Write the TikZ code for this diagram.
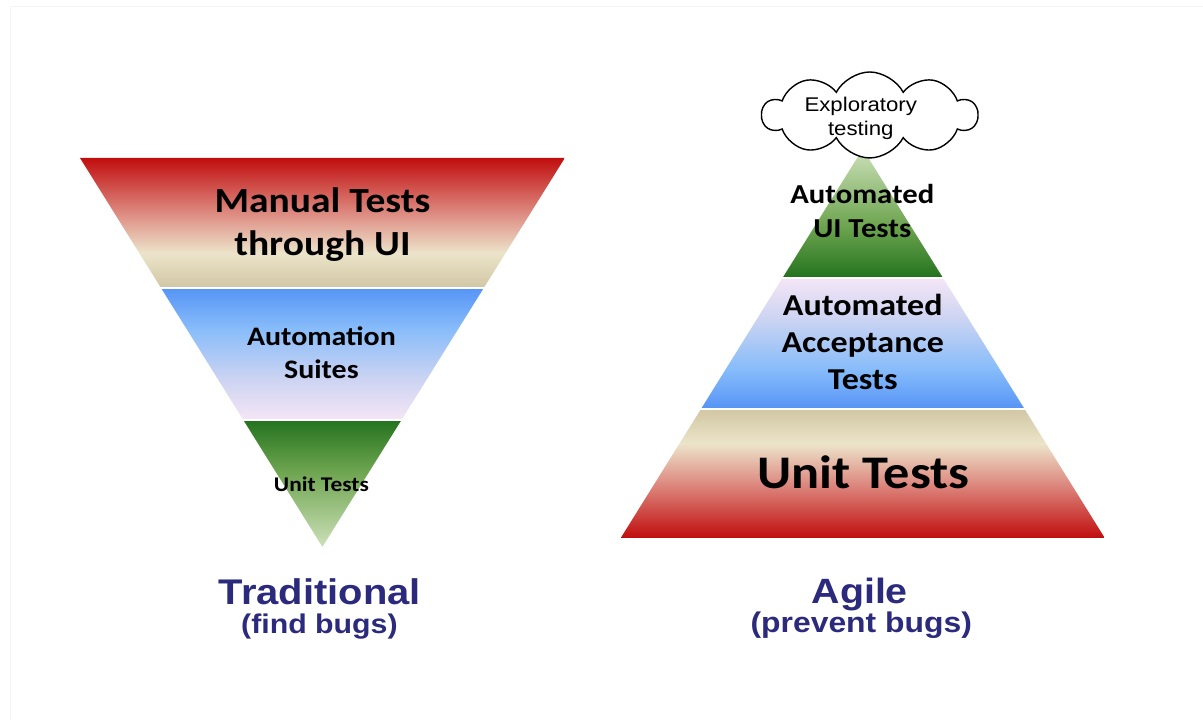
\documentclass[tikz,border=0pt]{standalone}
\usepackage{fontspec}
\setmainfont{Carlito}
\newfontfamily\arialfont{Liberation Sans}
\usetikzlibrary{positioning,shapes.symbols}

\definecolor{tierred}{RGB}{192,14,14}
\definecolor{tierpink}{RGB}{222,142,132}
\definecolor{tierbeige}{RGB}{236,228,202}
\definecolor{tiertan}{RGB}{210,200,166}
\definecolor{tierblue}{RGB}{88,150,246}
\definecolor{tiersky}{RGB}{135,188,250}
\definecolor{tiermist}{RGB}{205,212,242}
\definecolor{tierlilac}{RGB}{243,229,246}
\definecolor{tiergreen}{RGB}{38,116,32}
\definecolor{tiermoss}{RGB}{110,165,80}
\definecolor{tierpale}{RGB}{204,224,184}
\definecolor{labelnavy}{RGB}{43,42,124}

\pgfdeclareverticalshading{redtop}{100bp}{color(0bp)=(tiertan); color(25bp)=(tiertan); color(38bp)=(tierbeige); color(53bp)=(tierpink); color(75bp)=(tierred); color(100bp)=(tierred)}
\pgfdeclareverticalshading{redbottom}{100bp}{color(0bp)=(tierred); color(25bp)=(tierred); color(47bp)=(tierpink); color(62bp)=(tierbeige); color(75bp)=(tiertan); color(100bp)=(tiertan)}
\pgfdeclareverticalshading{bluetop}{100bp}{color(0bp)=(tierlilac); color(25bp)=(tierlilac); color(40bp)=(tiermist); color(60bp)=(tiersky); color(75bp)=(tierblue); color(100bp)=(tierblue)}
\pgfdeclareverticalshading{bluebottom}{100bp}{color(0bp)=(tierblue); color(25bp)=(tierblue); color(40bp)=(tiersky); color(60bp)=(tiermist); color(75bp)=(tierlilac); color(100bp)=(tierlilac)}
\pgfdeclareverticalshading{greentop}{100bp}{color(0bp)=(tierpale); color(25bp)=(tierpale); color(55bp)=(tiermoss); color(75bp)=(tiergreen); color(100bp)=(tiergreen)}
\pgfdeclareverticalshading{greenbottom}{100bp}{color(0bp)=(tiergreen); color(25bp)=(tiergreen); color(45bp)=(tiermoss); color(75bp)=(tierpale); color(100bp)=(tierpale)}

\begin{document}
\begin{tikzpicture}[x=0.02cm, y=-0.02cm,
    tier/.style n args={2}{align=center, inner sep=0pt, xscale=1.12, font=\bfseries\fontsize{#1}{#2}\selectfont},
    caption/.style={anchor=base, inner sep=0pt, xscale=1.12, text=labelnavy, font=\arialfont\bfseries\fontsize{#1}{#1}\selectfont},
    idea/.style={cloud, cloud puffs=10, cloud puff arc=125, aspect=2.5, draw, line width=0.8pt, fill=white, minimum width=4.3cm, minimum height=1.72cm}
  ]
    \fill[white] (0,0) rectangle (1203,720);
    \draw[black!4] (10,720) -- (10,6) -- (1203,6);

    \begin{scope}
      \clip (80,158) -- (565,158) -- (322.5,547) -- cycle;
      \shade[shading=redtop] (80,158) rectangle (565,286.5);
      \shade[shading=bluetop] (80,289.5) rectangle (565,418.5);
      \shade[shading=greentop] (80,421.5) rectangle (565,547);
    \end{scope}
    \node[tier={20.1}{24.5}] (manual) at (322.5,224.5) {Manual Tests\\through UI};
    \node[tier={15.2}{18.8}] (suites) at (321.5,352.5) {Automation\\Suites};
    \node[tier={11.9}{14}] (unitsmall) at (321.5,484) {Unit Tests};

    \begin{scope}
      \clip (621,538) -- (1105,538) -- (863,149) -- cycle;
      \shade[shading=greenbottom] (621,149) rectangle (1105,276.5);
      \shade[shading=bluebottom] (621,279.5) rectangle (1105,407.5);
      \shade[shading=redbottom] (621,410.5) rectangle (1105,538);
    \end{scope}
    \node[idea] (explore) at (870,115) {};
    \node[align=center, inner sep=0pt, xscale=1.12, font=\arialfont\fontsize{11.3}{13.3}\selectfont] (explorelabel) at (861,118.3) {Exploratory\\testing};
    \node[tier={15.6}{19.4}] (uitests) at (862.5,211) {Automated\\UI Tests};
    \node[tier={17.3}{21.3}] (accept) at (863,342) {Automated\\Acceptance\\Tests};
    \node[tier={26.6}{30}] (unitbig) at (863.5,472) {Unit Tests};

    \node[caption=20.3] (trad) at (320,605) {Traditional};
    \node[caption=15.4] (tradnote) at (319.5,634) {(find bugs)};
    \node[caption=20] (agile) at (860,604) {Agile};
    \node[caption=16.2] (agilenote) at (861.5,633) {(prevent bugs)};
\end{tikzpicture}
\end{document}
